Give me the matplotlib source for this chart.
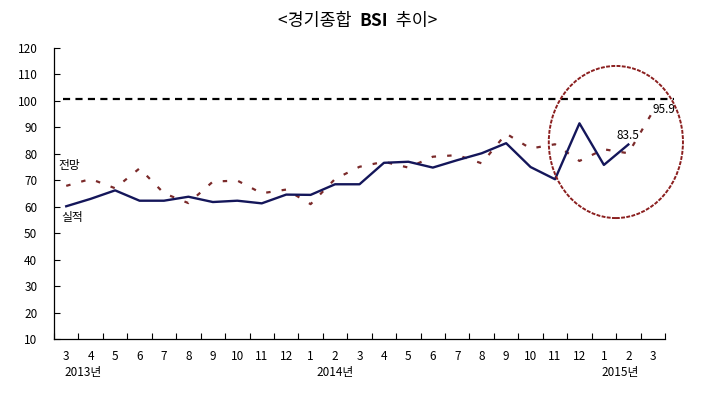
import matplotlib
matplotlib.use("Agg")
import matplotlib.pyplot as plt
from matplotlib.patches import Ellipse

plt.rcParams['font.family'] = ['Noto Sans CJK KR', 'DejaVu Sans']

months = ['3', '4', '5', '6', '7', '8', '9', '10', '11', '12', '1', '2', '3',
          '4', '5', '6', '7', '8', '9', '10', '11', '12', '1', '2', '3']
years = ['2013년', '2014년', '2015년']
year_pos = [0, 10, 22]

# 실적 (actual), 2013.3 ~ 2015.2
actual = [60.2, 63.0, 66.2, 62.3, 62.3, 63.8, 61.8, 62.3, 61.3, 64.6,
          64.5, 68.5, 68.5, 76.6, 77.0, 74.8, 77.6, 80.2, 84.0, 75.0,
          70.4, 91.5, 75.8, 83.5]
# 전망 (forecast), 2013.3 ~ 2015.3
forecast = [67.9, 70.5, 67.0, 74.5, 65.1, 61.4, 69.5, 69.9, 65.1, 66.5,
            61.0, 70.5, 75.1, 77.0, 74.8, 78.9, 79.5, 76.4, 87.6, 82.0,
            83.6, 77.3, 81.7, 80.2, 95.9]
ref_level = 100.6

fig = plt.figure(figsize=(7.11, 3.95), dpi=100)
ax = fig.add_axes([54/711, 55.7/395, (665-54)/711, (339.3-47.8)/395])

navy = '#14165a'
maroon = '#7b2a2a'

x_act = list(range(len(actual)))
x_fc = list(range(len(forecast)))

ax.plot([-0.12, 24.85], [ref_level, ref_level], color='black', lw=1.6,
        linestyle=(0, (3.2, 2.4)), clip_on=False, zorder=2)
ax.plot(x_fc, forecast, color=maroon, lw=1.6, linestyle=(0, (2.0, 5.0)),
        zorder=3)
ax.plot(x_act, actual, color=navy, lw=1.7, zorder=4)

ax.text(x_act[-1], actual[-1] + 0.8, f'{actual[-1]}', ha='center', va='bottom',
        fontsize=8.5, color='black')
ax.text(x_fc[-1], forecast[-1] + 0.8, f'{forecast[-1]}', ha='left', va='center',
        fontsize=8.5, color='black')

ax.text(-0.3, 75.5, '전망', fontsize=8.5, ha='left', va='center')
ax.text(-0.2, 56.0, '실적', fontsize=8.5, ha='left', va='center')

ell = Ellipse((22.49, 84.45), 5.49, 57.4, fill=False, edgecolor='#8b1f1f',
              lw=1.4, linestyle=(0, (2.0, 0.7)), clip_on=False, zorder=5)
ax.add_patch(ell)

ax.set_xlim(-0.5, 24.5)
ax.set_ylim(10, 120)
ax.set_yticks(range(10, 121, 10))
ax.set_xticks(range(len(months)))
ax.set_xticklabels(months, fontsize=8.5)
ax.set_xticks([i + 0.5 for i in range(-1, len(months))], minor=True)
ax.tick_params(axis='x', which='major', length=0, pad=8)
ax.tick_params(axis='x', which='minor', direction='in', length=4, width=0.8)
ax.tick_params(axis='y', direction='in', length=4, width=0.8, labelsize=8.5, pad=12)

for s in ['top', 'right']:
    ax.spines[s].set_visible(False)
for s in ['left', 'bottom']:
    ax.spines[s].set_linewidth(0.9)

offsets = [-0.08, 0.25, -0.08]
for y, p, o in zip(years, year_pos, offsets):
    ax.text(p + o, -0.09, y, transform=ax.get_xaxis_transform(), ha='left',
            va='top', fontsize=8.5)

# title in three pieces (bold BSI), centred as a whole
ty = 1 - 21/395
parts = [('<경기종합  ', 'normal'), ('BSI', 'bold'), ('  추이>', 'normal')]
texts = [fig.text(0, ty, s, ha='left', va='center', fontsize=12.5, fontweight=w)
         for s, w in parts]
fig.canvas.draw()
r = fig.canvas.get_renderer()
widths = [t.get_window_extent(r).width for t in texts]
x0 = 358 - sum(widths) / 2
for t, w in zip(texts, widths):
    t.set_x(x0 / 711)
    x0 += w

fig.savefig('out.png', dpi=100)
